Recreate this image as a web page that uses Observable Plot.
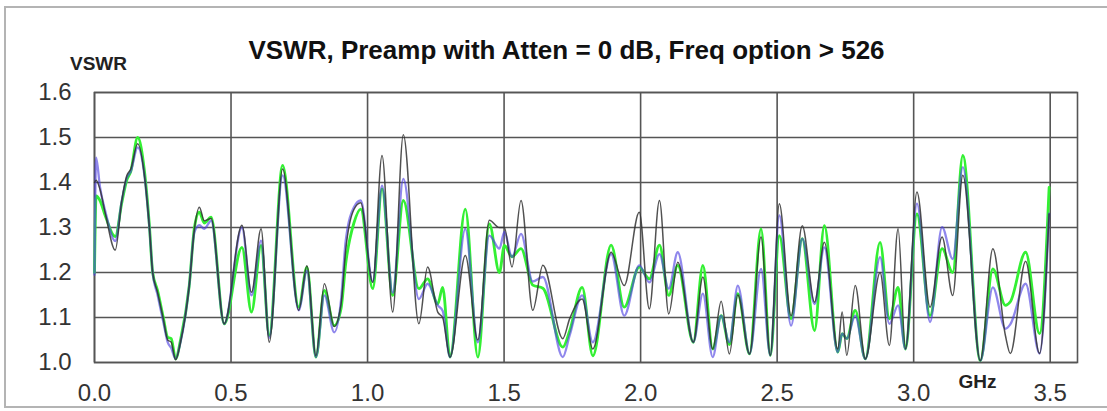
<!DOCTYPE html>
<html>
<head>
<meta charset="utf-8">
<script src="https://cdn.jsdelivr.net/npm/d3@7"></script>
<script src="https://cdn.jsdelivr.net/npm/@observablehq/plot@0.6"></script>
<style>
  body { margin: 0; background: #fff; }
  #wrap { position: relative; width: 1107px; height: 411px; overflow: hidden; background: #fff; }
  #border { position: absolute; left: 4px; top: 6px; width: 1130px; height: 398px; border: 2px solid #b4b4b4; }
  #chart { position: absolute; left: 0; top: 0; }
</style>
</head>
<body>
<div id="wrap"><div id="border"></div><div id="chart"></div></div>
<script>
const title = "VSWR, Preamp with Atten = 0 dB, Freq option > 526";
const yLabel = "VSWR";
const xLabel = "GHz";
const xTicks = [0, 0.5, 1.0, 1.5, 2.0, 2.5, 3.0, 3.5];
const yTicks = [1.0, 1.1, 1.2, 1.3, 1.4, 1.5, 1.6];

const freq = [0.000, 0.006, 0.020, 0.040, 0.076, 0.100, 0.118, 0.133, 0.158, 0.182, 0.201, 0.213, 0.231, 0.252, 0.268, 0.281, 0.297, 0.315, 0.347, 0.366, 0.384, 0.402, 0.427, 0.475, 0.540, 0.575, 0.610, 0.640, 0.689, 0.748, 0.778, 0.811, 0.842, 0.878, 0.903, 0.920, 0.950, 0.975, 1.019, 1.053, 1.092, 1.131, 1.188, 1.220, 1.257, 1.275, 1.302, 1.358, 1.404, 1.446, 1.483, 1.501, 1.529, 1.562, 1.605, 1.642, 1.715, 1.740, 1.786, 1.825, 1.892, 1.940, 1.995, 2.032, 2.069, 2.103, 2.136, 2.193, 2.228, 2.264, 2.295, 2.325, 2.356, 2.399, 2.441, 2.475, 2.508, 2.551, 2.592, 2.637, 2.673, 2.722, 2.738, 2.755, 2.786, 2.823, 2.877, 2.911, 2.943, 2.970, 3.012, 3.060, 3.104, 3.143, 3.180, 3.244, 3.290, 3.336, 3.354, 3.410, 3.461, 3.496];

const black = [1.40, 1.405, 1.385, 1.33, 1.25, 1.36, 1.415, 1.43, 1.486, 1.42, 1.30, 1.20, 1.156, 1.097, 1.05, 1.045, 1.006, 1.045, 1.171, 1.297, 1.345, 1.315, 1.32, 1.086, 1.305, 1.156, 1.297, 1.045, 1.43, 1.116, 1.215, 1.015, 1.175, 1.08, 1.13, 1.25, 1.34, 1.355, 1.178, 1.46, 1.112, 1.506, 1.086, 1.212, 1.112, 1.10, 1.012, 1.238, 1.05, 1.316, 1.30, 1.30, 1.212, 1.36, 1.116, 1.216, 1.053, 1.097, 1.141, 1.03, 1.245, 1.171, 1.334, 1.119, 1.36, 1.108, 1.223, 1.045, 1.19, 1.03, 1.136, 1.019, 1.15, 1.019, 1.279, 1.016, 1.353, 1.104, 1.304, 1.134, 1.267, 1.03, 1.112, 1.016, 1.171, 1.008, 1.20, 1.038, 1.297, 1.03, 1.379, 1.123, 1.279, 1.149, 1.416, 1.004, 1.253, 1.06, 1.02, 1.225, 1.02, 1.33];

const blue = [1.195, 1.455, 1.39, 1.335, 1.27, 1.36, 1.41, 1.425, 1.478, 1.42, 1.30, 1.20, 1.15, 1.09, 1.045, 1.032, 1.008, 1.045, 1.171, 1.29, 1.305, 1.297, 1.315, 1.086, 1.30, 1.149, 1.271, 1.055, 1.416, 1.116, 1.204, 1.012, 1.149, 1.067, 1.14, 1.27, 1.345, 1.36, 1.18, 1.393, 1.155, 1.408, 1.141, 1.175, 1.127, 1.115, 1.012, 1.297, 1.045, 1.282, 1.253, 1.29, 1.235, 1.286, 1.18, 1.19, 1.012, 1.06, 1.149, 1.045, 1.241, 1.104, 1.216, 1.178, 1.241, 1.164, 1.245, 1.045, 1.153, 1.012, 1.104, 1.045, 1.171, 1.019, 1.208, 1.016, 1.327, 1.082, 1.275, 1.13, 1.256, 1.023, 1.064, 1.053, 1.104, 1.008, 1.234, 1.086, 1.127, 1.03, 1.353, 1.09, 1.301, 1.23, 1.434, 1.004, 1.167, 1.075, 1.085, 1.175, 1.02, 1.331];

const green = [1.20, 1.37, 1.36, 1.325, 1.28, 1.355, 1.405, 1.425, 1.50, 1.43, 1.305, 1.20, 1.16, 1.10, 1.056, 1.053, 1.008, 1.05, 1.171, 1.30, 1.334, 1.31, 1.323, 1.086, 1.256, 1.112, 1.26, 1.06, 1.438, 1.123, 1.212, 1.012, 1.16, 1.082, 1.12, 1.22, 1.31, 1.341, 1.164, 1.386, 1.149, 1.36, 1.164, 1.186, 1.13, 1.167, 1.012, 1.341, 1.012, 1.308, 1.20, 1.26, 1.235, 1.253, 1.172, 1.165, 1.034, 1.07, 1.167, 1.015, 1.261, 1.123, 1.212, 1.186, 1.261, 1.149, 1.216, 1.045, 1.216, 1.03, 1.104, 1.04, 1.153, 1.019, 1.297, 1.016, 1.282, 1.097, 1.275, 1.071, 1.304, 1.023, 1.064, 1.053, 1.116, 1.008, 1.267, 1.097, 1.167, 1.03, 1.33, 1.104, 1.253, 1.20, 1.46, 1.004, 1.208, 1.127, 1.135, 1.245, 1.064, 1.389];

if (black.length !== freq.length || blue.length !== freq.length || green.length !== freq.length) {
  throw new Error(`length mismatch freq=${freq.length} black=${black.length} blue=${blue.length} green=${green.length}`);
}

const rows = (vals) => freq.map((f, i) => ({f, v: vals[i]}));
const fmt = d3.format(".1f");
const font = "'Liberation Sans', Arial, sans-serif";

const chart = Plot.plot({
  width: 1107,
  height: 411,
  marginLeft: 94,
  marginRight: 30,
  marginTop: 92,
  marginBottom: 49,
  style: {fontFamily: font, background: "transparent", overflow: "visible"},
  x: {domain: [0, 3.6], ticks: xTicks, tickFormat: fmt, tickSize: 0, tickPadding: 21, label: null},
  y: {domain: [1.0, 1.6], ticks: yTicks, tickFormat: fmt, tickSize: 0, tickPadding: 23, label: null},
  marks: [
    Plot.ruleY(yTicks, {stroke: "#555", strokeWidth: 1.6}),
    Plot.ruleX(xTicks, {stroke: "#555", strokeWidth: 1.6}),
    Plot.frame({stroke: "#555", strokeWidth: 1.6}),
    Plot.line(rows(green), {x: "f", y: "v", curve: "monotone-x", stroke: "#33f033", strokeWidth: 2.8}),
    Plot.line(rows(blue), {x: "f", y: "v", curve: "monotone-x", stroke: "#4a3ee0", strokeWidth: 2.3, strokeOpacity: 0.62}),
    Plot.line(rows(black), {x: "f", y: "v", curve: "monotone-x", stroke: "#333", strokeWidth: 1.5, strokeOpacity: 0.85}),
    Plot.axisX({ticks: xTicks, tickFormat: fmt, tickSize: 0, tickPadding: 21, fontSize: 24, fill: "#333", label: null}),
    Plot.axisY({ticks: yTicks, tickFormat: fmt, tickSize: 0, tickPadding: 23, fontSize: 24, fill: "#333", label: null}),
    Plot.text([title], {frameAnchor: "top-left", dx: 472, dy: -34, text: d => d, textAnchor: "middle", lineAnchor: "bottom", fontSize: 26, fontWeight: "bold", fill: "#111"}),
    Plot.text([yLabel], {frameAnchor: "top-left", dx: 4, dy: -23, text: d => d, textAnchor: "middle", lineAnchor: "bottom", fontSize: 19, fontWeight: "bold", fill: "#222"}),
    Plot.text([xLabel], {frameAnchor: "bottom-left", dx: 883, dy: 25, text: d => d, textAnchor: "middle", lineAnchor: "bottom", fontSize: 19, fontWeight: "bold", fill: "#222"})
  ]
});
document.getElementById("chart").appendChild(chart);
</script>
</body>
</html>
